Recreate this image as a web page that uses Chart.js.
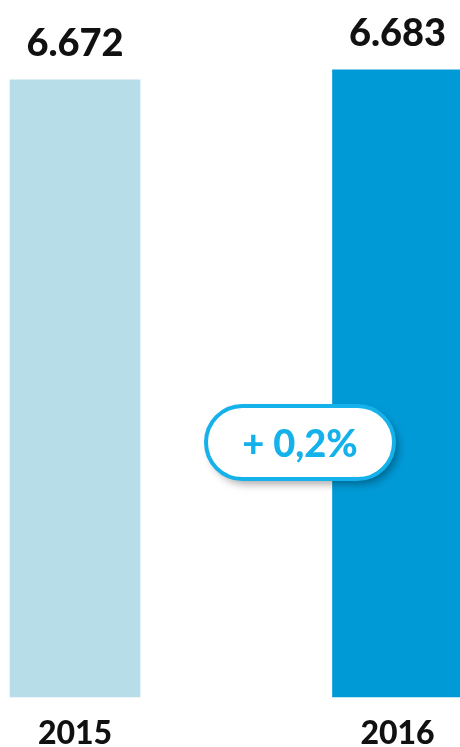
<!DOCTYPE html>
<html>
<head>
<meta charset="utf-8">
<script src="https://cdn.jsdelivr.net/npm/chart.js@4/dist/chart.umd.min.js"></script>
<style>
  html, body { margin: 0; padding: 0; background: #ffffff; overflow: hidden; }
  #wrap { width: 460px; height: 747px; position: relative; }
</style>
</head>
<body>
<div id="wrap"><canvas id="c" width="460" height="747"></canvas></div>
<script>
const categories = ['2015', '2016'];
const values = [6672, 6683];
const barColors = ['#b7dde8', '#009ad7'];
const changeLabel = '+ 0,2%';
const axisMin = 6000;
const axisMax = 6759;

const FONT_W = '900';

function fmt(v) {
  return String(v).replace(/\B(?=(\d{3})+(?!\d))/g, '.');
}

const valueLabels = {
  id: 'valueLabels',
  afterDatasetsDraw(chart) {
    const ctx = chart.ctx;
    const meta = chart.getDatasetMeta(0);
    const xs = chart.scales.x;
    ctx.save();
    ctx.fillStyle = '#111111';
    ctx.textAlign = 'center';
    ctx.textBaseline = 'alphabetic';
    ctx.font = FONT_W + ' 38px Lato';
    meta.data.forEach((bar, i) => {
      ctx.fillText(fmt(values[i]), bar.x, bar.y - 24);
    });
    ctx.font = FONT_W + ' 32px Lato';
    categories.forEach((c, i) => {
      ctx.fillText(c, xs.getPixelForTick(i), chart.chartArea.bottom + 47);
    });
    ctx.restore();
  }
};

const badge = {
  id: 'badge',
  afterDatasetsDraw(chart) {
    const ctx = chart.ctx;
    const cx = 300, cy = 442.5, w = 188, h = 73, r = h / 2;
    const x = cx - w / 2, y = cy - h / 2;
    ctx.save();
    ctx.beginPath();
    ctx.roundRect(x, y, w, h, r);
    ctx.shadowColor = 'rgba(0,0,0,0.35)';
    ctx.shadowBlur = 8;
    ctx.shadowOffsetX = 4;
    ctx.shadowOffsetY = 5;
    ctx.fillStyle = '#ffffff';
    ctx.fill();
    ctx.shadowColor = 'transparent';
    ctx.lineWidth = 4;
    ctx.strokeStyle = '#14b1ea';
    ctx.stroke();
    ctx.font = FONT_W + ' 38px Lato';
    ctx.fillStyle = '#14b1ea';
    ctx.textAlign = 'center';
    ctx.textBaseline = 'alphabetic';
    ctx.fillText(changeLabel, cx, 457);
    ctx.restore();
  }
};

new Chart(document.getElementById('c'), {
  type: 'bar',
  data: {
    labels: categories,
    datasets: [{
      data: values,
      backgroundColor: barColors,
      borderWidth: 0,
      barThickness: 130,
      base: axisMin,
      clip: false
    }]
  },
  options: {
    responsive: false,
    animation: false,
    layout: { padding: { left: 75, right: 62.5, top: 0, bottom: 50 } },
    plugins: { legend: { display: false }, tooltip: { enabled: false } },
    scales: {
      x: {
        display: false,
        offset: false,
        grid: { display: false, offset: false }
      },
      y: {
        display: false,
        min: axisMin,
        max: axisMax
      }
    }
  },
  plugins: [valueLabels, badge]
});
</script>
</body>
</html>
